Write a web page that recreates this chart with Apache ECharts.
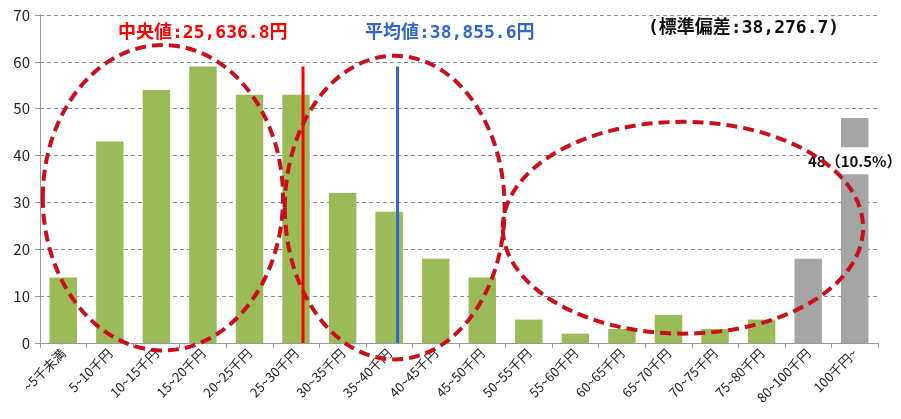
<!DOCTYPE html>
<html>
<head>
<meta charset="utf-8">
<script src="https://cdn.jsdelivr.net/npm/echarts@6/dist/echarts.min.js"></script>
<style>
  html, body { margin: 0; padding: 0; background: #fff; }
  #chart { width: 901px; height: 419px; }
</style>
</head>
<body>
<div id="chart"></div>
<script>
// Income bands (monthly, yen)
const categories = ['~5千未満', '5~10千円', '10~15千円', '15~20千円', '20~25千円', '25~30千円',
  '30~35千円', '35~40千円', '40~45千円', '45~50千円', '50~55千円', '55~60千円',
  '60~65千円', '65~70千円', '70~75千円', '75~80千円', '80~100千円', '100千円~'];

// Number of respondents per band
const counts = [14, 43, 54, 59, 53, 53, 32, 28, 18, 14, 5, 2, 3, 6, 3, 5, 18, 48];

// Bands drawn in grey (the wide top bands)
const greyBands = ['80~100千円', '100千円~'];
// Band whose count gets a value/share label
const labelledBand = '100千円~';

// y axis ticks
const yTicks = [0, 10, 20, 30, 40, 50, 60, 70];

// Reference lines, positioned in category units along the axis
const medianLine = { x: 5.65, top: 59 };
const meanLine = { x: 7.68, top: 59 };

// Statistic captions
const medianText = '中央値:25,636.8円';
const meanText = '平均値:38,855.6円';
const sdText = '(標準偏差:38,276.7)';

// Highlight ellipses: [centre (category units), centre (count), radius x, radius y]
const ellipses = [
  [2.64, 31.0, 2.58, 32.6],
  [7.62, 28.9, 2.36, 32.4],
  [13.81, 24.6, 3.87, 22.6]
];

const total = counts.reduce((a, b) => a + b, 0);

const GREEN = '#9bbb59';
const GREY = '#a5a5a5';
const CJK = '"Noto Sans CJK JP", "Noto Sans", sans-serif';
const CAPTION = '"DejaVu Sans Mono", "Noto Sans CJK JP", monospace';

const barData = counts.map((v, i) => {
  const item = {
    value: v,
    itemStyle: { color: greyBands.includes(categories[i]) ? GREY : GREEN }
  };
  if (categories[i] === labelledBand) {
    item.label = {
      show: true,
      position: ['50%', '19%'],
      align: 'center',
      verticalAlign: 'middle',
      formatter: () => v + '（' + (v / total * 100).toFixed(1) + '%）',
      color: '#111',
      fontWeight: 'bold',
      fontSize: 15,
      fontFamily: CJK,
      backgroundColor: '#fff',
      padding: [6, 1]
    };
  }
  return item;
});

const chart = echarts.init(document.getElementById('chart'), null, { renderer: 'canvas' });

chart.setOption({
  animation: false,
  backgroundColor: '#fff',
  grid: { left: 40, right: 23, top: 15, bottom: 76, containLabel: false, outerBoundsMode: 'none' },
  xAxis: [
    {
      type: 'category',
      data: categories,
      boundaryGap: true,
      axisLine: { lineStyle: { color: '#999', width: 1 } },
      axisTick: { show: true, alignWithLabel: false, length: 5, lineStyle: { color: '#999' } },
      axisLabel: {
        rotate: 45,
        interval: 0,
        margin: 8,
        fontSize: 13,
        color: '#222',
        fontFamily: CJK
      }
    },
    {
      type: 'value',
      min: 0,
      max: categories.length,
      show: false
    }
  ],
  yAxis: {
    type: 'value',
    min: yTicks[0],
    max: yTicks[yTicks.length - 1],
    interval: yTicks[1] - yTicks[0],
    axisLine: { show: true, lineStyle: { color: '#999', width: 1 } },
    axisTick: { show: true, length: 5, lineStyle: { color: '#999' } },
    axisLabel: { fontSize: 15, color: '#222', margin: 10, fontFamily: CJK },
    splitLine: { show: true, lineStyle: { color: '#8c8c8c', type: [4, 3], width: 1 } }
  },
  series: [
    {
      type: 'bar',
      data: barData,
      barCategoryGap: '41%',
      z: 2
    },
    {
      type: 'line',
      xAxisIndex: 1,
      data: [[medianLine.x, 0], [medianLine.x, medianLine.top]],
      symbol: 'none',
      lineStyle: { color: '#ff0000', width: 3 },
      z: 4
    },
    {
      type: 'line',
      xAxisIndex: 1,
      data: [[meanLine.x, 0], [meanLine.x, meanLine.top]],
      symbol: 'none',
      lineStyle: { color: '#3366cc', width: 3 },
      z: 4
    },
    {
      type: 'custom',
      xAxisIndex: 1,
      data: ellipses,
      clip: false,
      z: 6,
      renderItem: (params, api) => {
        const c = api.coord([api.value(0), api.value(1)]);
        const s = api.size([api.value(2), api.value(3)]);
        return {
          type: 'ellipse',
          shape: { cx: c[0], cy: c[1], rx: s[0], ry: s[1] },
          style: {
            fill: 'none',
            stroke: '#c8101c',
            lineWidth: 4,
            lineDash: [11, 6]
          }
        };
      }
    }
  ],
  graphic: [
    {
      type: 'text',
      left: 118,
      top: 24,
      style: { text: medianText, fill: '#ff0000', font: 'bold 18px ' + CAPTION }
    },
    {
      type: 'text',
      left: 365,
      top: 24,
      style: { text: meanText, fill: '#3366cc', font: 'bold 18px ' + CAPTION }
    },
    {
      type: 'text',
      left: 648,
      top: 19,
      style: { text: sdText, fill: '#111', font: 'bold 18px ' + CAPTION }
    }
  ]
});
</script>
</body>
</html>
